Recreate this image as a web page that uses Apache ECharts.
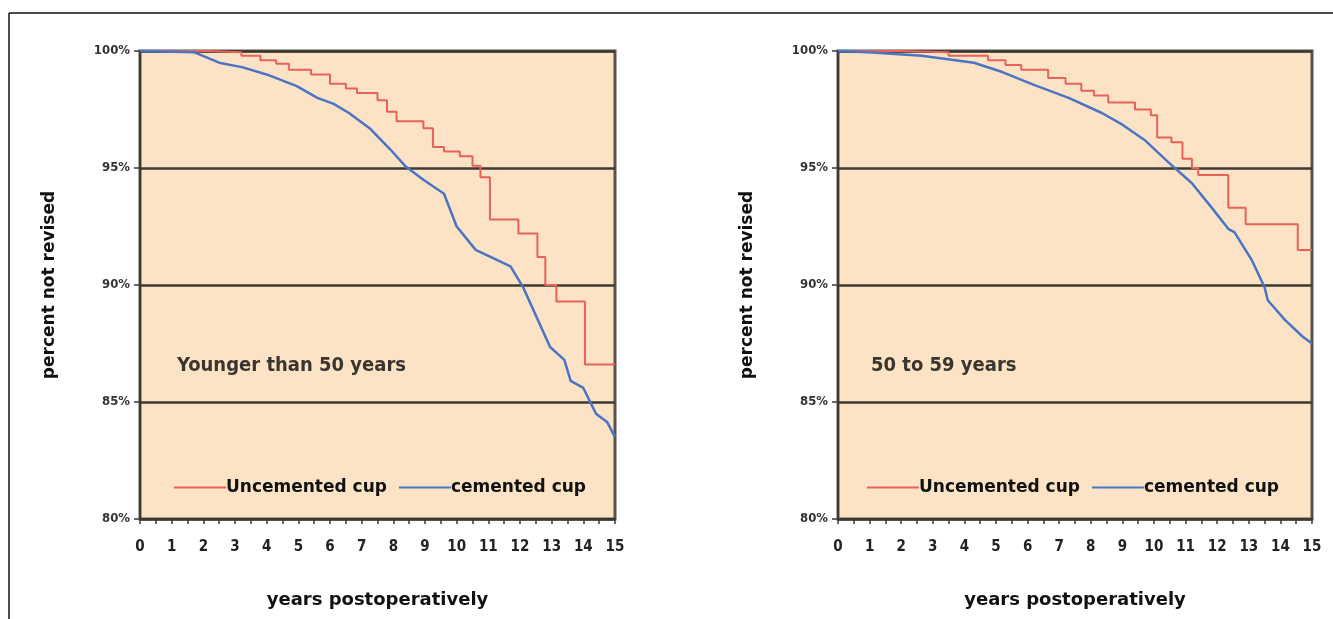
<!DOCTYPE html>
<html>
<head>
<meta charset="utf-8">
<script src="https://cdn.jsdelivr.net/npm/echarts@6/dist/echarts.min.js"></script>
<style>
html,body{margin:0;padding:0;background:#fff;}
#c{width:1333px;height:619px;}
</style>
</head>
<body>
<div id="c"></div>
<script>
// ---- data ----
var xTicks = [0,1,2,3,4,5,6,7,8,9,10,11,12,13,14,15];
var yTicks = [80,85,90,95,100];
var seriesNames = ['Uncemented cup', 'cemented cup'];
var panelTitles = ['Younger than 50 years', '50 to 59 years'];

// Left panel (Younger than 50 years): [year, percent not revised]
var youngUncemented = [[0,100],[2.2,99.95],[3.2,99.8],[3.8,99.6],[4.3,99.45],[4.7,99.2],[5.4,99.0],[6.0,98.6],[6.5,98.4],[6.85,98.2],[7.5,97.9],[7.8,97.4],[8.1,97.0],[8.95,96.7],[9.25,95.9],[9.6,95.7],[10.1,95.5],[10.5,95.1],[10.75,94.6],[11.05,92.8],[11.95,92.2],[12.55,91.2],[12.8,90.0],[13.15,89.3],[14.05,86.6],[15,86.6]];
var youngCemented = [[0,100],[1.7,99.95],[2.5,99.5],[3.25,99.3],[4.1,98.95],[4.95,98.5],[5.6,98.0],[6.1,97.75],[6.6,97.35],[7.25,96.7],[7.9,95.8],[8.4,95.05],[8.95,94.5],[9.6,93.9],[10.0,92.5],[10.6,91.5],[11.3,91.05],[11.7,90.8],[12.1,89.9],[12.3,89.3],[12.95,87.35],[13.4,86.8],[13.6,85.9],[14.0,85.6],[14.4,84.5],[14.75,84.15],[15,83.5]];

// Right panel (50 to 59 years)
var midUncemented = [[0,100],[2.0,99.95],[3.5,99.8],[4.75,99.6],[5.3,99.4],[5.8,99.2],[6.65,98.85],[7.2,98.6],[7.7,98.3],[8.1,98.1],[8.55,97.8],[9.4,97.5],[9.9,97.25],[10.1,96.3],[10.55,96.1],[10.9,95.4],[11.2,95.0],[11.4,94.7],[12.35,93.3],[12.9,92.6],[14.55,91.5],[15,91.5]];
var midCemented = [[0,100],[0.95,99.95],[2.65,99.8],[4.3,99.5],[5.2,99.1],[6.2,98.55],[7.3,98.0],[8.35,97.35],[9.0,96.85],[9.7,96.2],[10.45,95.25],[11.2,94.35],[11.8,93.35],[12.35,92.4],[12.55,92.25],[13.1,91.05],[13.5,89.9],[13.6,89.35],[14.15,88.5],[14.7,87.8],[15,87.5]];

// ---- styles ----
var RED = '#E8625A', BLUE = '#4A74C4';
var LABEL_FONT = '"Liberation Sans Narrow","DejaVu Sans Condensed","Liberation Sans",sans-serif';
var BOLD_FONT = '"DejaVu Sans","Liberation Sans",sans-serif';

function xAxis(gi){
  return {
    gridIndex: gi, type: 'value', min: 0, max: 15, interval: 1,
    name: 'years postoperatively', nameLocation: 'middle', nameGap: 72,
    nameTextStyle: {fontFamily: BOLD_FONT, fontWeight: 'bold', fontSize: 18, color: '#111'},
    axisLine: {show: true, onZero: false, lineStyle: {color: '#3d3830', width: 2}},
    axisTick: {show: true, inside: false, length: 5, lineStyle: {color: '#3d3830', width: 1.5}},
    minorTick: {show: true, splitNumber: 2, length: 5, lineStyle: {color: '#3d3830', width: 1.5}},
    axisLabel: {margin: 21, fontFamily: LABEL_FONT, fontWeight: 'bold', fontSize: 15, color: '#222',
      formatter: function(v){ return xTicks.indexOf(v) >= 0 ? String(v) : ''; }},
    splitLine: {show: false}
  };
}
function yAxis(gi){
  return {
    gridIndex: gi, type: 'value', min: 80, max: 100, interval: 5,
    name: 'percent not revised', nameLocation: 'middle', nameGap: 82,
    nameTextStyle: {fontFamily: BOLD_FONT, fontWeight: 'bold', fontSize: 17, color: '#111'},
    axisLine: {show: true, lineStyle: {color: '#3d3830', width: 2}},
    axisTick: {show: true, inside: false, length: 6, lineStyle: {color: '#3d3830', width: 1.5}},
    axisLabel: {margin: 10, fontFamily: LABEL_FONT, fontWeight: 'bold', fontSize: 13, color: '#333',
      formatter: function(v){ return yTicks.indexOf(v) >= 0 ? v + '%' : ''; }},
    splitLine: {show: true, lineStyle: {color: '#3d3830', width: 2.5}}
  };
}
function line(name, data, gi, color, step, width){
  return {
    name: name, type: 'line', xAxisIndex: gi, yAxisIndex: gi, data: data,
    step: step, symbol: 'none', silent: true, animation: false,
    lineStyle: {color: color, width: width}, itemStyle: {color: color}
  };
}
function legend(left){
  return {
    left: left, top: 474, itemWidth: 52, itemHeight: 12, itemGap: 12,
    icon: 'path://M0,5 L52,5 L52,7 L0,7 Z',
    data: [
      {name: seriesNames[0], itemStyle: {color: RED}},
      {name: seriesNames[1], itemStyle: {color: BLUE}}],
    textStyle: {fontFamily: BOLD_FONT, fontWeight: 'bold', fontSize: 17, color: '#111', padding: [0,0,0,-5]}
  };
}

var chart = echarts.init(document.getElementById('c'), null, {renderer: 'canvas'});
chart.setOption({
  animation: false,
  backgroundColor: '#ffffff',
  grid: [
    {left: 140, width: 475, top: 51, height: 468, show: true, backgroundColor: '#FDE3C6', borderColor: '#5a524a', borderWidth: 3, containLabel: false},
    {left: 838, width: 474, top: 51, height: 468, show: true, backgroundColor: '#FDE3C6', borderColor: '#5a524a', borderWidth: 3, containLabel: false}
  ],
  xAxis: [xAxis(0), xAxis(1)],
  yAxis: [yAxis(0), yAxis(1)],
  legend: [legend(169), legend(862)],
  series: [
    line(seriesNames[0], youngUncemented, 0, RED, 'end', 2),
    line(seriesNames[1], youngCemented, 0, BLUE, false, 2.5),
    line(seriesNames[0], midUncemented, 1, RED, 'end', 2),
    line(seriesNames[1], midCemented, 1, BLUE, false, 2.5)
  ],
  graphic: [
    {type: 'line', shape: {x1: 9, y1: 13, x2: 1333, y2: 13}, style: {stroke: '#111', lineWidth: 1.5}},
    {type: 'line', shape: {x1: 9, y1: 13, x2: 9, y2: 619}, style: {stroke: '#111', lineWidth: 1.5}},
    {type: 'text', left: 177, top: 356, style: {text: panelTitles[0], fontFamily: '"DejaVu Sans Condensed","Liberation Sans Narrow",sans-serif', fontWeight: 'bold', fontSize: 20, fill: '#3a3530'}},
    {type: 'text', left: 871, top: 356, style: {text: panelTitles[1], fontFamily: '"DejaVu Sans Condensed","Liberation Sans Narrow",sans-serif', fontWeight: 'bold', fontSize: 20, fill: '#3a3530'}}
  ]
});
</script>
</body>
</html>
